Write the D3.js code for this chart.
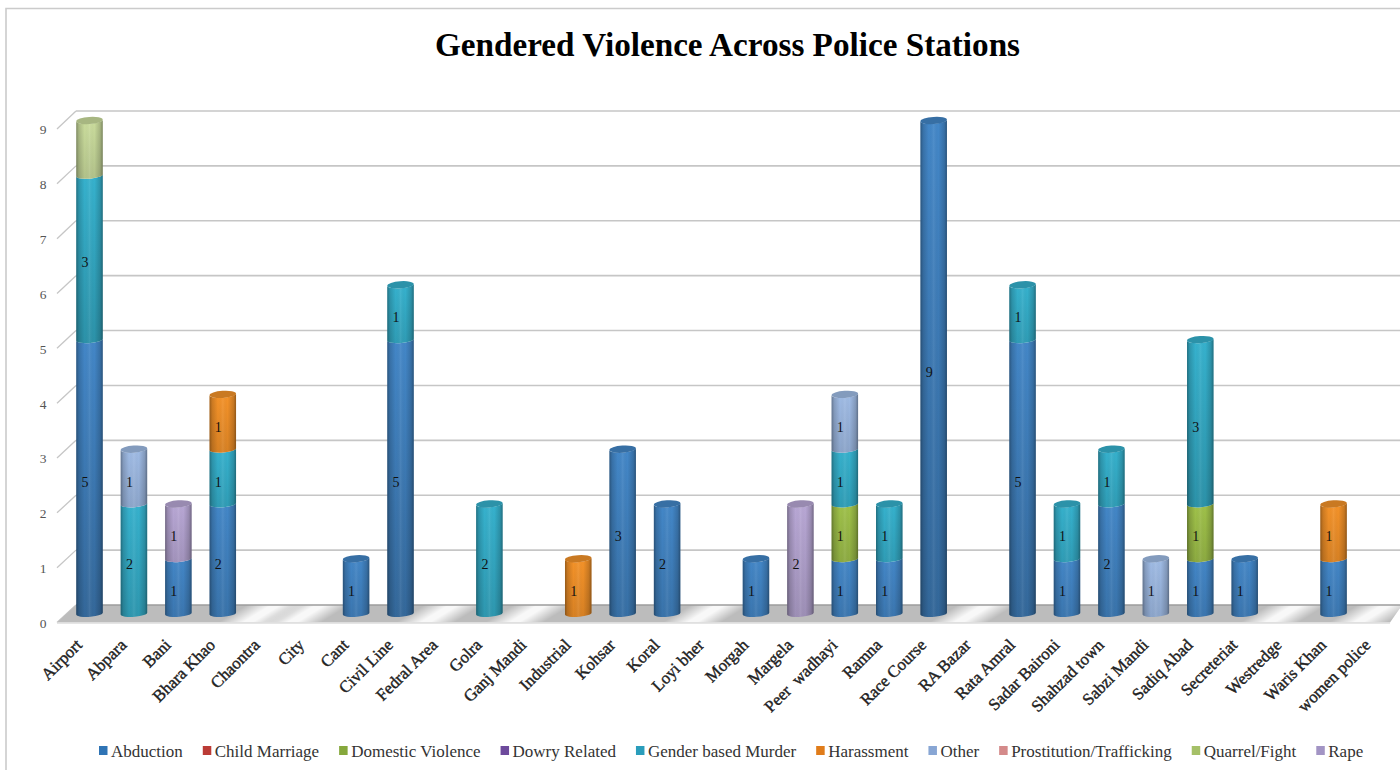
<!DOCTYPE html>
<html>
<head>
<meta charset="utf-8">
<script src="https://cdn.jsdelivr.net/npm/d3@7/dist/d3.min.js"></script>
<style>
html,body{margin:0;padding:0;background:#fff;overflow:hidden}
svg{display:block}
text{font-family:"Liberation Serif",serif}
</style>
</head>
<body>
<svg id="chart" width="1400" height="770"></svg>
<script>
const chartTitle = "Gendered Violence Across Police Stations";
const stations = ["Airport","Abpara","Bani","Bhara Khao","Chaontra","City","Cant","Civil Line","Fedral Area","Golra","Ganj Mandi","Industrial","Kohsar","Koral","Loyi bher","Morgah","Margela","Peer  wadhayi","Ramna","Race Course","RA Bazar","Rata Amral","Sadar Baironi","Shahzad town","Sabzi Mandi","Sadiq Abad","Secreteriat","Westredge","Waris Khan","women police"];
const categoriesOfViolence = ["Abduction","Child Marriage","Domestic Violence","Dowry Related","Gender based Murder","Harassment","Other","Prostitution/Trafficking","Quarrel/Fight","Rape"];
const abduction     = [5,0,1,2,0,0,1,5,0,0,0,0,3,2,0,1,0,1,1,9,0,5,1,2,0,1,1,0,1,0];
const childMarriage = [0,0,0,0,0,0,0,0,0,0,0,0,0,0,0,0,0,0,0,0,0,0,0,0,0,0,0,0,0,0];
const domestic      = [0,0,0,0,0,0,0,0,0,0,0,0,0,0,0,0,0,1,0,0,0,0,0,0,0,1,0,0,0,0];
const dowry         = [0,0,0,0,0,0,0,0,0,0,0,0,0,0,0,0,0,0,0,0,0,0,0,0,0,0,0,0,0,0];
const genderMurder  = [3,2,0,1,0,0,0,1,0,2,0,0,0,0,0,0,0,1,1,0,0,1,1,1,0,3,0,0,0,0];
const harassment    = [0,0,0,1,0,0,0,0,0,0,0,1,0,0,0,0,0,0,0,0,0,0,0,0,0,0,0,0,1,0];
const other         = [0,1,0,0,0,0,0,0,0,0,0,0,0,0,0,0,0,1,0,0,0,0,0,0,1,0,0,0,0,0];
const prostitution  = [0,0,0,0,0,0,0,0,0,0,0,0,0,0,0,0,0,0,0,0,0,0,0,0,0,0,0,0,0,0];
const quarrel       = [1,0,0,0,0,0,0,0,0,0,0,0,0,0,0,0,0,0,0,0,0,0,0,0,0,0,0,0,0,0];
const rape          = [0,0,1,0,0,0,0,0,0,0,0,0,0,0,0,0,2,0,0,0,0,0,0,0,0,0,0,0,0,0];
const seriesValues  = [abduction,childMarriage,domestic,dowry,genderMurder,harassment,other,prostitution,quarrel,rape];
const seriesColors  = ["#4387c8","#c0403a","#a0c24a","#7a52a8","#36b2ce","#f59329","#a0bce6","#d99090","#cbdd9d","#b9a8d6"];
const legendColors  = ["#2f74b5","#bb3b36","#86a83c","#6d4a9c","#2a9dbb","#e07c1a","#88a6d4","#d48a8a","#a5c068","#a294c4"];
const valueTicks    = [0,1,2,3,4,5,6,7,8,9];
const unlabelled    = ["Quarrel/Fight"];

const svg = d3.select("#chart");
const defs = svg.append("defs");

const x = d3.scalePoint().domain(stations).range([89.5,1378]);
const yBar = d3.scaleLinear().domain([0,9]).range([613.5,120.5]);
const yWall = d3.scaleLinear().domain([0,9]).range([605,111]);
const yFront = d3.scaleLinear().domain([0,9]).range([622.5,129]);
const depthX = 19, wallLeft = 76, wallRight = 1400;
const barW = 26.5, rx = barW/2, ry = 3.4, tilt = 1.1;

// outer chart frame
svg.append("path").attr("d","M6,770V8.5H1400").attr("fill","none").attr("stroke","#cbcbcb").attr("stroke-width",1.6);

// chart title
svg.append("text").attr("x",727.5).attr("y",56).attr("text-anchor","middle")
  .attr("font-size",33.2).attr("font-weight","bold").attr("fill","#000").text(chartTitle);

// back wall gridlines with the slanted side-wall ticks
const grid = svg.append("g");
grid.selectAll("line.wall").data(valueTicks.slice(1)).join("line").attr("class","wall")
  .attr("x1",wallLeft).attr("x2",wallRight).attr("y1",d=>yWall(d)).attr("y2",d=>yWall(d))
  .attr("stroke","#c6c6c6").attr("stroke-width",1.6);
grid.selectAll("line.side").data(valueTicks).join("line").attr("class","side")
  .attr("x1",wallLeft-depthX).attr("x2",wallLeft).attr("y1",d=>yFront(d)).attr("y2",d=>yWall(d))
  .attr("stroke","#c6c6c6").attr("stroke-width",1.3);

// floor slab
const floorPath = "M57,622.5L76,605H1400V608L1390,622.5Z";
svg.append("path").attr("d",floorPath).attr("fill","#bcbcbc");

// pale sheen on the floor wherever a station has no bar standing on it
const totals = stations.map((s,i)=>d3.sum(seriesValues,v=>v[i]));
svg.append("g").selectAll("path").data(stations.filter((s,i)=>totals[i]===0)).join("path")
  .attr("d",floorPath)
  .attr("fill",s=>{
    const c = x(s)-6, id = "sheen-"+stations.indexOf(s);
    const g = defs.append("linearGradient").attr("id",id).attr("gradientUnits","userSpaceOnUse")
      .attr("x1",c-8).attr("y1",614-13).attr("x2",c+8).attr("y2",614+13);
    [[0,0],[.42,.9],[.58,.9],[1,0]].forEach(([o,a])=>g.append("stop").attr("offset",o).attr("stop-color","#fff").attr("stop-opacity",a));
    return `url(#${id})`;
  });
svg.append("line").attr("x1",76).attr("x2",1400).attr("y1",605).attr("y2",605).attr("stroke","#9c9c9c").attr("stroke-width",1.4);
svg.append("line").attr("x1",57).attr("x2",1390).attr("y1",623).attr("y2",623).attr("stroke","#dcdcdc").attr("stroke-width",1.6);

// stacked cylinders
const stackRows = stations.map((s,i)=>{const r={station:s};categoriesOfViolence.forEach((c,k)=>r[c]=seriesValues[k][i]);return r;});
const stacked = d3.stack().keys(categoriesOfViolence)(stackRows);

const side = defs.append("linearGradient").attr("id","cylinderSide").attr("x1",0).attr("x2",1).attr("y1",0).attr("y2",0);
[[0,"#000",.36],[.1,"#000",.16],[.32,"#000",0],[.5,"#fff",.07],[.68,"#000",0],[.9,"#000",.17],[1,"#000",.38]]
  .forEach(([o,c,a])=>side.append("stop").attr("offset",o).attr("stop-color",c).attr("stop-opacity",a));

const arcPath = (cx,y0,y1)=>{
  // body of a segment: bulging lower rim, and a matching rim on top
  const lx=cx-rx, rxx=cx+rx;
  return `M${lx},${y1+tilt}A${rx},${ry} -4 0 0 ${rxx},${y1-tilt}L${rxx},${y0-tilt}A${rx},${ry} -4 0 1 ${lx},${y0+tilt}Z`;
};

const bars = svg.append("g");
stacked.forEach((layer,k)=>{
  layer.forEach((seg,i)=>{
    const v = seg[1]-seg[0];
    if(!v) return;
    const name = stations[i], cx = x(name), base = seriesColors[k];
    const id = `seg-${k}-${i}`;
    const g = defs.append("linearGradient").attr("id",id).attr("x1",0).attr("x2",0).attr("y1",0).attr("y2",1);
    g.append("stop").attr("offset",0).attr("stop-color",base);
    g.append("stop").attr("offset",1).attr("stop-color",d3.color(base).darker(Math.min(.75,.28+.09*v)).formatHex());
    const y0 = yBar(seg[1]), y1 = yBar(seg[0]);
    const d = arcPath(cx,y0,y1);
    bars.append("path").attr("d",d).attr("fill",`url(#${id})`);
    bars.append("path").attr("d",d).attr("fill","url(#cylinderSide)");
    if(seg[1]===totals[i]){
      bars.append("ellipse").attr("cx",cx).attr("cy",y0).attr("rx",rx).attr("ry",ry+.2)
        .attr("transform",`rotate(-4 ${cx} ${y0})`)
        .attr("fill",d3.color(base).darker(.55).formatHex());
    }
  });
});

// value labels on the segments
const labels = svg.append("g");
stacked.forEach((layer,k)=>{
  if(unlabelled.includes(layer.key)) return;
  layer.forEach((seg,i)=>{
    const v = seg[1]-seg[0];
    if(!v) return;
    labels.append("text").attr("x",x(stations[i])-4.5).attr("y",yBar((seg[0]+seg[1])/2)+10)
      .attr("text-anchor","middle").attr("font-size",14).attr("fill","#111").text(v);
  });
});

// value axis labels
const yAxis = svg.append("g").attr("transform","translate(43,0)")
  .call(d3.axisLeft(yFront).tickValues(valueTicks).tickFormat(d3.format("d")).tickSize(0).tickPadding(0));
yAxis.select(".domain").remove();
yAxis.selectAll("text").attr("text-anchor","middle").attr("font-size",13.5).attr("fill","#555")
  .attr("font-family","Liberation Serif").attr("dy","0.36em");

// station axis labels
const xAxis = svg.append("g").attr("transform","translate(0,640)")
  .call(d3.axisBottom(x).tickSize(0).tickPadding(0));
xAxis.select(".domain").remove();
xAxis.selectAll("text").attr("text-anchor","end").attr("font-size",16.8).attr("fill","#222")
  .attr("font-family","Liberation Serif").attr("stroke","#222").attr("stroke-width",.4)
  .style("white-space","pre")
  .attr("dy",0).attr("y",0).attr("x",0)
  .attr("transform","translate(-7,6) rotate(-45)");

// legend, laid out from the measured width of each entry
const legend = svg.append("g");
let cursor = 99;
categoriesOfViolence.forEach((name,k)=>{
  const e = legend.append("g").attr("transform",`translate(${cursor},0)`);
  e.append("rect").attr("x",0).attr("y",746).attr("width",8.5).attr("height",9).attr("fill",legendColors[k]);
  const t = e.append("text").attr("x",12).attr("y",757).attr("font-size",17).attr("fill","#333").text(name);
  cursor += 12 + t.node().getComputedTextLength() + 20;
});
</script>
</body>
</html>
